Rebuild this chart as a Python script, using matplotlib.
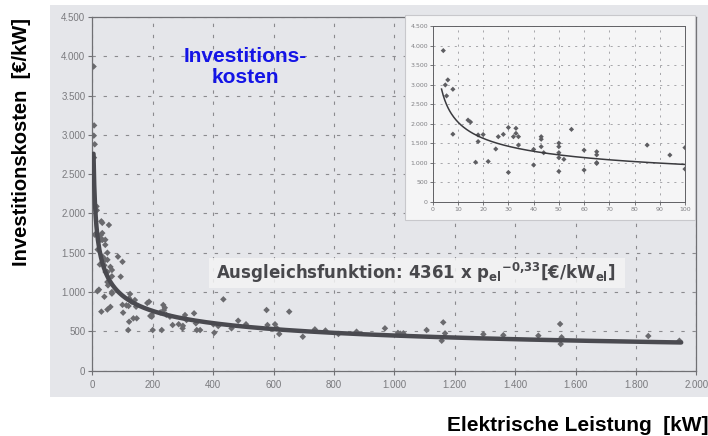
import numpy as np
import matplotlib
matplotlib.use("Agg")
import matplotlib.pyplot as plt
from matplotlib.patches import Rectangle
from matplotlib.ticker import FuncFormatter, MultipleLocator

# ---- data ----
cap_small = [4.2, 5, 6, 5.5, 8, 8, 14, 15, 17, 18, 18, 20, 22, 25, 26, 28, 30, 30, 32, 33,
             33, 34, 34, 40, 40, 43, 43, 43, 44, 50, 50, 50, 50, 50, 52, 55, 60, 60, 65, 65,
             65, 65, 85, 94, 100, 100]
cost_small = [3870, 2990, 3120, 2710, 2880, 1730, 2090, 2040, 1010, 1710, 1540, 1720, 1030, 1350,
              1665, 1725, 1900, 750, 1665, 1880, 1750, 1665, 1450, 1340, 940, 1665, 1600, 1410,
              1255, 1500, 1410, 1255, 1127, 777, 1085, 1853, 1320, 811, 1280, 1200, 1000, 980,
              1450, 1195, 1385, 837]
cap_large = [102, 113, 120, 122, 125, 130, 141, 145, 122, 119, 136, 147, 182, 188, 192, 197, 197,
             200, 230, 225, 235, 237, 240, 245, 257, 266, 286, 300, 299, 307, 312, 337, 343, 346,
             357, 401, 404, 417, 434, 461, 483, 509, 577, 580, 605, 611, 619, 652, 697, 737, 772,
             815, 875, 969, 1012, 1020, 1030, 1107, 1162, 1157, 1168, 1295, 1361, 1477, 1549,
             1554, 1551, 1841, 1944]
cost_large = [737, 830, 822, 920, 975, 880, 898, 813, 622, 516, 665, 665, 860, 877, 695, 707, 686,
              516, 516, 740, 835, 770, 800, 710, 686, 580, 590, 570, 538, 707, 644, 729, 602, 516,
              516, 589, 482, 567, 907, 538, 635, 590, 771, 580, 590, 540, 466, 750, 431, 525, 510,
              466, 495, 538, 480, 470, 475, 516, 614, 380, 474, 462, 450, 444, 593, 424, 338, 440,
              380]
fit_coef = 4361
fit_exp = -0.33

cap = np.array(cap_small + cap_large, dtype=float)
cost = np.array(cost_small + cost_large, dtype=float)

W, H = 708, 436
fig = plt.figure(figsize=(W / 100, H / 100), dpi=100)
fig.patch.set_facecolor("white")

def fr(x0, y0, x1, y1):
    return [x0 / W, 1 - y1 / H, (x1 - x0) / W, (y1 - y0) / H]

# gray paper panel
fig.add_artist(Rectangle((50 / W, 1 - 397 / H), (708 - 50) / W, (397 - 5) / H,
                         transform=fig.transFigure, facecolor="#e5e6ea", edgecolor="none", zorder=-5))

thou = FuncFormatter(lambda v, p: f"{int(round(v)):,}".replace(",", "."))
tick_col = "#7a7a7e"
grid_col = "#8a8a8e"

# ---- main axes ----
ax = fig.add_axes(fr(92.3, 17, 696.3, 370.6))
ax.set_facecolor("none")
ax.set_xlim(0, 2000)
ax.set_ylim(0, 4500)
ax.xaxis.set_major_locator(MultipleLocator(200))
ax.yaxis.set_major_locator(MultipleLocator(500))
ax.xaxis.set_major_formatter(thou)
ax.yaxis.set_major_formatter(thou)
for s in ax.spines.values():
    s.set_color("#707074")
    s.set_linewidth(0.9)
ax.tick_params(direction="out", length=3, width=0.8, color="#707074", labelcolor=tick_col,
               labelsize=7, pad=2)
ax.tick_params(axis="x", pad=4)
for lab in ax.get_xticklabels() + ax.get_yticklabels():
    lab.set_family("Liberation Sans")
ax.grid(True, which="major", color=grid_col, linestyle=(0, (3, 7)), linewidth=0.8)
ax.set_axisbelow(True)

ax.scatter(cap, cost, marker="D", s=11, color="#6a6a6e", edgecolors="none", zorder=3)
xf = np.linspace(4, 1950, 800)
ax.plot(xf, fit_coef * xf ** fit_exp, color="#4a4a50", lw=3.2, solid_capstyle="round", zorder=4)

# equation label with light box
fig.add_artist(Rectangle((209 / W, 1 - 288 / H), (625 - 209) / W, (288 - 258) / H,
                         transform=fig.transFigure, facecolor="#f4f4f4", alpha=0.85,
                         edgecolor="none", zorder=1))
fig.text(216 / W, 1 - 273 / H,
         r"Ausgleichsfunktion: 4361 x p$_{\mathbf{el}}{}^{\mathbf{-0{,}33}}$[€/kW$_{\mathbf{el}}$]",
         fontsize=12, fontweight="bold", color="#48484c", family="DejaVu Sans",
         ha="left", va="center", zorder=7)

# blue title
fig.text(245 / W, 1 - 67 / H, "Investitions-\nkosten", color="#1414e6", fontsize=15,
         fontweight="bold", family="Liberation Sans", ha="center", va="center", linespacing=1.15)

# ---- inset panel ----
fig.add_artist(Rectangle((405 / W, 1 - 220 / H), (695 - 405) / W, (220 - 15) / H,
                         transform=fig.transFigure, facecolor="#f5f5f6", edgecolor="#c8c8cc",
                         linewidth=0.8, zorder=2))
ins = fig.add_axes(fr(432.7, 26, 685, 201.7), zorder=3)
ins.set_facecolor("none")
ins.set_xlim(0, 100)
ins.set_ylim(0, 4500)
ins.xaxis.set_major_locator(MultipleLocator(10))
ins.yaxis.set_major_locator(MultipleLocator(500))
ins.yaxis.set_major_formatter(thou)
for s in ins.spines.values():
    s.set_color("#606064")
    s.set_linewidth(0.7)
ins.tick_params(direction="out", length=2, width=0.6, color="#606064", labelcolor="#808084",
                labelsize=4.5, pad=1.5)
ins.grid(True, color="#9a9a9e", linestyle=(0, (2.5, 6)), linewidth=0.6)
ins.set_axisbelow(True)
m = cap <= 100
ins.scatter(cap[m], cost[m], marker="D", s=7, color="#5e5e62", edgecolors="none", zorder=3)
xi = np.linspace(3.5, 100, 300)
ins.plot(xi, fit_coef * xi ** fit_exp, color="#3a3a3e", lw=1.1, zorder=4)

# axis labels
fig.text(22 / W, 1 - 142 / H, "Investitionskosten  [€/kW]", rotation=90, fontsize=14.5,
         fontweight="bold", family="Liberation Sans", ha="center", va="center", color="black")
fig.text(447 / W, 1 - 425 / H, "Elektrische Leistung  [kW]", fontsize=15,
         fontweight="bold", family="Liberation Sans", ha="left", va="center", color="black")

fig.savefig("out.png", dpi=100)
